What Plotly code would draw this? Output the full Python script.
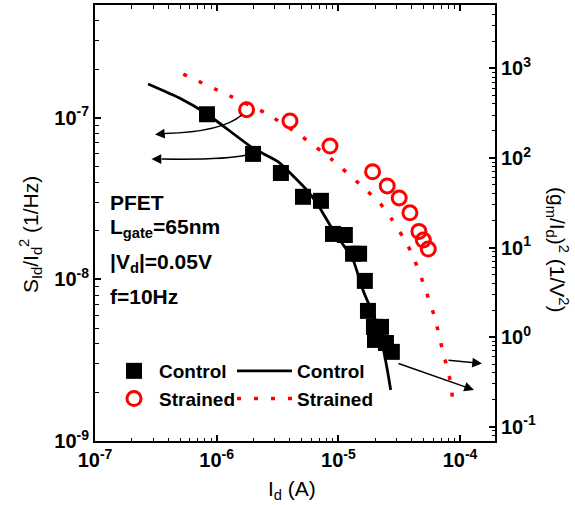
import plotly.graph_objects as go

# ---- data ----
ctrl_id = [8.32e-7, 1.99e-6, 3.37e-6, 5.12e-6, 7.19e-6, 9.03e-6, 1.13e-5, 1.32e-5,
           1.48e-5, 1.65e-5, 1.75e-5, 1.96e-5, 2.24e-5, 2.00e-5, 2.46e-5, 2.75e-5]
ctrl_s = [1.05e-7, 5.97e-8, 4.55e-8, 3.24e-8, 3.06e-8, 1.91e-8, 1.88e-8, 1.44e-8,
          1.44e-8, 9.78e-9, 6.38e-9, 5.08e-9, 5.08e-9, 4.22e-9, 4.04e-9, 3.56e-9]
str_id = [1.76e-6, 4.0e-6, 8.53e-6, 1.91e-5, 2.52e-5, 3.16e-5, 3.87e-5, 4.59e-5, 4.99e-5, 5.48e-5]
str_s = [1.12e-7, 9.54e-8, 6.68e-8, 4.63e-8, 3.78e-8, 3.19e-8, 2.58e-8, 1.98e-8, 1.75e-8, 1.54e-8]

ctrl_line_id = [2.73e-7, 4.99e-7, 8.32e-7, 1.98e-6, 3.19e-6, 5.50e-6, 6.64e-6, 9.03e-6,
                1.32e-5, 1.59e-5, 2.06e-5, 2.32e-5, 2.55e-5, 2.69e-5]
ctrl_gm = [668, 463, 309, 129, 90.8, 43.9, 31.4, 15.7, 7.25, 3.35, 1.44, 0.78, 0.398, 0.257]
str_line_id = [5.31e-7, 1.36e-6, 2.54e-6, 4.69e-6, 8.81e-6, 1.60e-5, 2.20e-5, 2.77e-5,
               3.38e-5, 4.00e-5, 5.05e-5, 6.22e-5, 7.19e-5, 7.80e-5, 8.41e-5, 8.68e-5]
str_gm = [863, 474, 315, 185, 96.4, 47.0, 31.1, 20.3, 13.2, 8.69, 3.81, 1.62, 0.705, 0.463, 0.30, 0.199]

x_ticks = [1e-7, 1e-6, 1e-5, 1e-4]
x_ticktext = ["10<sup>-7</sup>", "10<sup>-6</sup>", "10<sup>-5</sup>", "10<sup>-4</sup>"]
y_ticks = [1e-9, 1e-8, 1e-7]
y_ticktext = ["10<sup>-9</sup>", "10<sup>-8</sup>", "10<sup>-7</sup>"]
y2_ticks = [0.1, 1, 10, 100, 1000]
y2_ticktext = ["10<sup>-1</sup>", "10<sup>0</sup>", "10<sup>1</sup>", "10<sup>2</sup>", "10<sup>3</sup>"]

W, H = 575, 505
L, R, T, B = 95, 80, 5, 64
PW, PH = W - L - R, H - T - B


def px(x, y):
    return (x - L) / PW, (H - B - y) / PH


FONT = "Liberation Sans, Arial, sans-serif"
RED = "#ff0000"

fig = go.Figure()
fig.add_trace(go.Scatter(x=ctrl_id, y=ctrl_s, mode="markers", name="Control",
                         marker=dict(symbol="square", size=16, color="black"),
                         legend="legend"))
fig.add_trace(go.Scatter(x=str_id, y=str_s, mode="markers", name="Strained",
                         marker=dict(symbol="circle-open", size=14, color=RED,
                                     line=dict(width=3, color=RED)),
                         legend="legend"))
fig.add_trace(go.Scatter(x=ctrl_line_id, y=ctrl_gm, mode="lines", name="Control",
                         line=dict(color="black", width=2.8, shape="spline", smoothing=0.5),
                         yaxis="y2", legend="legend2"))
fig.add_trace(go.Scatter(x=str_line_id, y=str_gm, mode="lines", name="Strained",
                         line=dict(color=RED, width=3.5, dash="4px,13px", shape="spline", smoothing=0.5),
                         yaxis="y2", legend="legend2"))

tickfont = dict(family=FONT, size=20, color="black", weight="bold")
common = dict(type="log", showline=True, linecolor="black", linewidth=2,
              ticks="inside", ticklen=6, tickwidth=1.5, tickcolor="black",
              showgrid=False, zeroline=False, automargin=False,
              tickfont=tickfont, tickmode="array",
              minor=dict(ticks="inside", ticklen=3.5, tickwidth=1, tickcolor="black",
                         dtick="D1", showgrid=False))

lfont = dict(family=FONT, size=19, color="black", weight="bold")
fig.update_layout(
    width=W, height=H,
    margin=dict(l=L, r=R, t=T, b=B),
    paper_bgcolor="white", plot_bgcolor="white",
    font=dict(family=FONT, color="black"),
    xaxis=dict(range=[-7, -3.713], tickvals=x_ticks, ticktext=x_ticktext, mirror="ticks", **common),
    yaxis=dict(range=[-9, -6.303], tickvals=y_ticks, ticktext=y_ticktext, **common),
    yaxis2=dict(range=[-1.16, 3.707], tickvals=y2_ticks, ticktext=y2_ticktext,
                overlaying="y", side="right", anchor="x", **common),
    legend=dict(x=px(109, 0)[0], y=px(0, 352)[1], xanchor="left", yanchor="top",
                bgcolor="rgba(0,0,0,0)", tracegroupgap=0, itemwidth=40, font=lfont),
    legend2=dict(x=px(232, 0)[0], y=px(0, 352)[1], xanchor="left", yanchor="top",
                 bgcolor="rgba(0,0,0,0)", tracegroupgap=0, itemwidth=55, font=lfont),
    showlegend=True,
)

annots = []
tfont = dict(family=FONT, size=21, color="black", weight="bold")
for txt, yy in [("PFET", 202), ("L<sub>gate</sub>=65nm", 228), ("|V<sub>d</sub>|=0.05V", 263), ("f=10Hz", 296)]:
    xp, yp = px(108, yy)
    annots.append(dict(text=txt, x=xp, y=yp, xref="paper", yref="paper",
                       xanchor="left", yanchor="middle", showarrow=False, font=tfont))

afont = dict(family=FONT, size=21, color="black")
xp, yp = px(292, 490)
annots.append(dict(text="I<sub>d</sub> (A)", x=xp, y=yp, xref="paper", yref="paper",
                   xanchor="center", yanchor="middle", showarrow=False, font=afont))
xp, yp = px(30, 235)
annots.append(dict(text="S<sub>Id</sub>/I<sub>d</sub><sup>2</sup> (1/Hz)", x=xp, y=yp,
                   xref="paper", yref="paper", textangle=-90, xanchor="center", yanchor="middle",
                   showarrow=False, font=afont))
xp, yp = px(558, 249)
annots.append(dict(text="(g<sub>m</sub>/I<sub>d</sub>)<sup>2</sup> (1/V<sup>2</sup>)", x=xp, y=yp,
                   xref="paper", yref="paper", textangle=90, xanchor="center", yanchor="middle",
                   showarrow=False, font=afont))


def arrow(tail, tip):
    xp, yp = px(*tip)
    annots.append(dict(x=xp, y=yp, xref="paper", yref="paper", text="",
                       showarrow=True, ax=tail[0] - tip[0], ay=tail[1] - tip[1],
                       arrowhead=2, arrowsize=1.3, arrowwidth=1.5, arrowcolor="black",
                       standoff=0, startstandoff=0))


shapes = []


def curve(start, ctrl, end):
    s, c, e = px(*start), px(*ctrl), px(*end)
    shapes.append(dict(type="path", xref="paper", yref="paper",
                       path=f"M {s[0]},{s[1]} Q {c[0]},{c[1]} {e[0]},{e[1]}",
                       line=dict(color="black", width=1.5)))


curve((241.7, 115), (222, 132), (165, 133.5))
arrow((166, 133.5), (155, 134.5))
curve((246.7, 155), (225, 160), (162, 159))
arrow((163, 159), (151.5, 159))
arrow((447, 360), (482, 363.5))
arrow((397, 363), (474, 390))

fig.update_layout(annotations=annots, shapes=shapes)
fig.write_html("out.html", config={"displayModeBar": False},
               post_script="document.body.style.margin='0px';")
